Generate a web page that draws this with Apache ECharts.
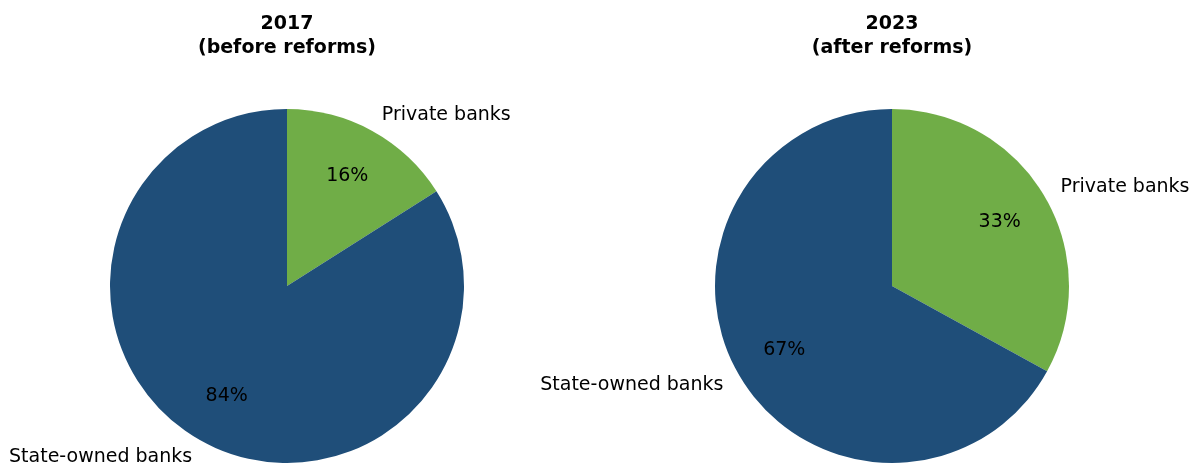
<!DOCTYPE html>
<html>
<head>
<meta charset="utf-8">
<script src="https://cdn.jsdelivr.net/npm/echarts@6/dist/echarts.min.js"></script>
<style>
  html, body { margin: 0; padding: 0; background: #fff; }
  #chart { width: 1192px; height: 464px; }
</style>
</head>
<body>
<div id="chart"></div>
<script>
// data
const categories = ['Private banks', 'State-owned banks']
const titles = ['2017\n(before reforms)', '2023\n(after reforms)']
const share2017 = [16, 84]
const share2023 = [33, 67]
const sliceColors = ['#70ad47', '#1f4e79']

const R = 177
const centers = [[287, 286], [892, 286]]
const font = 'DejaVu Sans'

const chart = echarts.init(document.getElementById('chart'))

const toData = vals => vals.map((v, i) => ({ name: categories[i], value: v }))

const series = []
;[share2017, share2023].forEach((vals, k) => {
  // wedges + outer category labels
  series.push({
    type: 'pie',
    center: centers[k],
    radius: [0, R],
    startAngle: 90,
    clockwise: true,
    silent: true,
    avoidLabelOverlap: false,
    data: toData(vals),
    color: sliceColors,
    label: {
      show: true,
      position: 'outside',
      formatter: '{b}',
      fontFamily: font,
      fontSize: 19,
      color: '#000',
      distanceToLabelLine: 1,
      padding: [2, 0, 0, 0]
    },
    labelLine: { show: false, length: R * 0.1, length2: 0 },
    emphasis: { disabled: true }
  })
  // percent labels, ring midpoint ~0.69 of radius
  series.push({
    type: 'pie',
    center: centers[k],
    radius: [R * 0.38, R],
    startAngle: 90,
    clockwise: true,
    silent: true,
    data: toData(vals),
    itemStyle: { color: 'rgba(0,0,0,0)' },
    label: {
      show: true,
      position: 'inside',
      formatter: p => Math.round(p.percent) + '%',
      fontFamily: font,
      fontSize: 19,
      color: '#000'
    },
    labelLine: { show: false },
    emphasis: { disabled: true }
  })
})

chart.setOption({
  animation: false,
  backgroundColor: '#fff',
  title: titles.map((t, k) => ({
    text: t,
    left: centers[k][0],
    top: 12,
    padding: 0,
    textAlign: 'center',
    textStyle: {
      fontFamily: font,
      fontSize: 19,
      fontWeight: 'bold',
      color: '#000',
      lineHeight: 24
    }
  })),
  series: series
})
</script>
</body>
</html>
